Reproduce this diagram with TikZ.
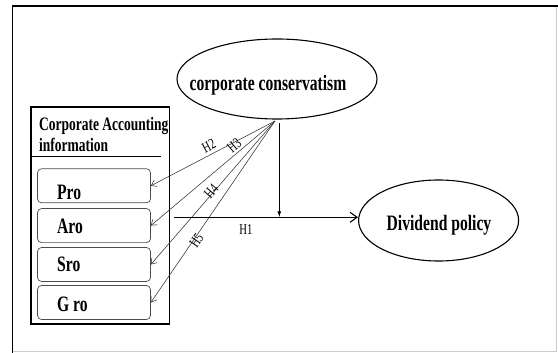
\documentclass[tikz,border=0pt]{standalone}
\usepackage{fontspec}
\setmainfont{Liberation Serif}
\newfontfamily\condfont[FakeStretch=0.71]{Liberation Serif}
\usetikzlibrary{shapes.geometric,arrows.meta}
\begin{document}
\begin{tikzpicture}[x=1pt,y=-1pt,
  ell/.style={draw,line width=1.1pt,ellipse,inner sep=0pt},
  bigtxt/.style={font=\condfont\bfseries\fontsize{22}{24}\selectfont,inner sep=0pt,anchor=base},
  ttltxt/.style={font=\condfont\bfseries\fontsize{19}{20}\selectfont,inner sep=0pt,anchor=base west},
  itemtxt/.style={font=\condfont\bfseries\fontsize{22}{24}\selectfont,inner sep=0pt,anchor=base west},
  ibox/.style={draw=black!70,line width=0.7pt,rounded corners=4pt,minimum width=113pt,minimum height=34pt,inner sep=0pt},
  hlab/.style={font=\condfont\fontsize{15}{16}\selectfont,inner sep=0.5pt,sloped},
  fanarr/.style={draw=black!80,line width=0.55pt,-{Straight Barb[length=5pt,width=7pt]}},
  mainarr/.style={line width=1.1pt,-{Straight Barb[length=7pt,width=10pt]}},
  downarr/.style={line width=0.9pt,-{Latex[length=6pt,width=4pt]}}
]
\useasboundingbox (0,0) rectangle (558,353);
% outer frame
\draw[black!20,line width=0.6pt] (556.7,6) -- (556.7,351.7) -- (12.5,351.7);
\draw[line width=1.8pt] (12.5,353) -- (12.5,6) -- (558,6);

% corporate conservatism
\node[ell,minimum width=200pt,minimum height=80pt] (cc) at (277,79) {};
\node[bigtxt] (cctxt) at (268,90.7) {corporate conservatism};

% dividend policy
\node[ell,minimum width=160pt,minimum height=81pt] (dp) at (438.6,220.5) {};
\node[bigtxt] (dptxt) at (439,230) {Dividend policy};

% left box
\node[draw,line width=1.3pt,minimum width=138.8pt,minimum height=217pt,inner sep=0pt] (cai) at (100.4,215.5) {};
\node[ttltxt] (caitxt1) at (39,130.7) {Corporate Accounting};
\node[ttltxt] (caitxt2) at (39,151.7) {information};
\coordinate (sepl) at (31,156.7);
\coordinate (sepr) at (161,156.7);
\draw[line width=1.3pt] (sepl) -- (sepr);

\node[ibox] (pro) at (94,185.8) {};
\node[ibox] (aro) at (94,225.6) {};
\node[ibox] (sro) at (94,264.5) {};
\node[ibox] (gro) at (94,302.5) {};
\node[itemtxt] (protxt) at (57,199.3) {Pro};
\node[itemtxt] (arotxt) at (57,233.3) {Aro};
\node[itemtxt] (srotxt) at (57,272) {Sro};
\node[itemtxt] (grotxt) at (57,311) {G ro};

% fan
\coordinate (fan) at (275,121);
\draw[fanarr] (fan) -- node[hlab,pos=0.50,above=3pt] (h2) {H2} (pro.east);
\draw[fanarr] (fan) -- node[hlab,pos=0.29,above=1.5pt] (h3) {H3} (aro.east);
\draw[fanarr] (fan) -- node[hlab,pos=0.50,above=-3.5pt] (h4) {H4} (sro.east);
\draw[fanarr] (fan) -- node[hlab,pos=0.65,above=-8.5pt] (h5) {H5} (gro.east);

% H1
\coordinate (h1s) at (174,217.3);
\draw[mainarr] (h1s) -- (dp.west |- h1s);
\node[font=\condfont\fontsize{15}{16}\selectfont,inner sep=0pt] (h1) at (246,230) {H1};
\coordinate (vtop) at (279.3,123);
\draw[downarr] (vtop) -- (vtop |- h1s);
\end{tikzpicture}
\end{document}
